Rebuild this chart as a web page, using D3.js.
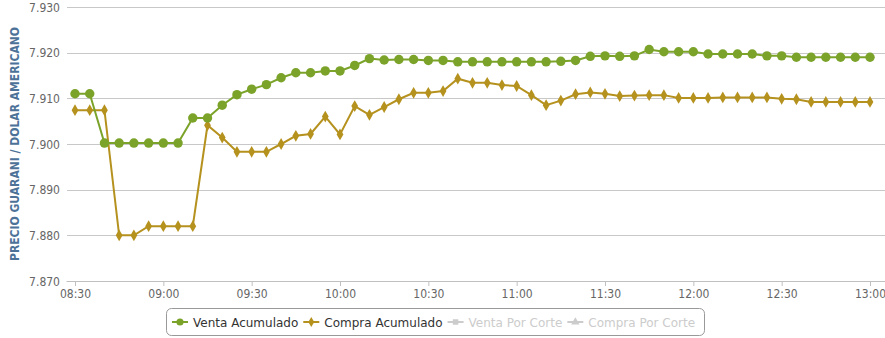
<!DOCTYPE html>
<meta charset="utf-8">
<title>Precio Guarani / Dolar</title>
<style>
body { margin: 0; background: #fff; }
svg { display: block; }
.grid line { stroke: #c8c8c8; stroke-width: 1; shape-rendering: crispEdges; }
.tick text { font: 12px "DejaVu Sans Condensed", "DejaVu Sans", sans-serif; fill: #666; }
.legend text { font: 12px "DejaVu Sans", sans-serif; fill: #333; }
</style>
<body>
<script src="https://d3js.org/d3.v7.min.js"></script>
<script>

// times, every 5 minutes
var times = ["08:30","08:35","08:40","08:45","08:50","08:55","09:00","09:05","09:10","09:15",
             "09:20","09:25","09:30","09:35","09:40","09:45","09:50","09:55","10:00","10:05",
             "10:10","10:15","10:20","10:25","10:30","10:35","10:40","10:45","10:50","10:55",
             "11:00","11:05","11:10","11:15","11:20","11:25","11:30","11:35","11:40","11:45",
             "11:50","11:55","12:00","12:05","12:10","12:15","12:20","12:25","12:30","12:35",
             "12:40","12:45","12:50","12:55","13:00"];

var ventaAcumulado = [7.9110,7.9110,7.9002,7.9002,7.9002,7.9002,7.9002,7.9002,7.9057,7.9057,
                      7.9085,7.9108,7.9120,7.9130,7.9145,7.9156,7.9156,7.9160,7.9160,7.9172,
                      7.9187,7.9184,7.9185,7.9185,7.9183,7.9183,7.9180,7.9180,7.9180,7.9180,
                      7.9180,7.9180,7.9180,7.9181,7.9183,7.9192,7.9193,7.9192,7.9193,7.9207,
                      7.9202,7.9202,7.9202,7.9197,7.9197,7.9197,7.9197,7.9193,7.9193,7.9190,
                      7.9190,7.9190,7.9190,7.9190,7.9190];

var compraAcumulado = [7.9074,7.9074,7.9074,7.8800,7.8800,7.8820,7.8820,7.8820,7.8820,7.9041,
                       7.9014,7.8983,7.8983,7.8983,7.9000,7.9018,7.9022,7.9060,7.9021,7.9083,
                       7.9064,7.9081,7.9098,7.9112,7.9112,7.9116,7.9143,7.9134,7.9134,7.9129,
                       7.9127,7.9107,7.9085,7.9095,7.9109,7.9113,7.9110,7.9105,7.9106,7.9107,
                       7.9107,7.9101,7.9101,7.9101,7.9102,7.9102,7.9102,7.9102,7.9099,7.9098,
                       7.9092,7.9092,7.9092,7.9092,7.9092];

var yTicks = [7.870, 7.880, 7.890, 7.900, 7.910, 7.920, 7.930];
var xTicks = ["08:30","09:00","09:30","10:00","10:30","11:00","11:30","12:00","12:30","13:00"];

var legendItems = [
  {name: "Venta Acumulado", color: "#7ba32a", symbol: "circle", on: true},
  {name: "Compra Acumulado", color: "#b5911e", symbol: "diamond", on: true},
  {name: "Venta Por Corte", color: "#cccccc", symbol: "square", on: false},
  {name: "Compra Por Corte", color: "#cccccc", symbol: "triangle", on: false}
];

var W = 885, H = 338;
var margin = {left: 67, top: 7};
var plotW = 830, plotH = 274;

var parseT = d3.timeParse("%H:%M");
var fmtT = d3.timeFormat("%H:%M");

var x = d3.scaleTime()
    .domain([parseT("08:30"), parseT("13:00")])
    .range([8, 803]);
var y = d3.scaleLinear()
    .domain([7.870, 7.930])
    .range([plotH, 0]);

var svg = d3.select("body").append("svg")
    .attr("width", W).attr("height", H);

var g = svg.append("g")
    .attr("transform", "translate(" + margin.left + "," + margin.top + ")");

// horizontal grid
g.append("g").attr("class", "grid")
  .selectAll("line").data(yTicks.slice(1)).enter().append("line")
  .attr("x1", 0).attr("x2", plotW)
  .attr("y1", function(d) { return Math.round(y(d)) + 0.5; })
  .attr("y2", function(d) { return Math.round(y(d)) + 0.5; });

// y axis labels
var yAxis = g.append("g")
  .call(d3.axisLeft(y).tickValues(yTicks).tickFormat(d3.format(".3f")).tickSize(0).tickPadding(7));
yAxis.select(".domain").remove();
yAxis.selectAll("text").attr("dy", "0.35em");

// x axis
var xAxis = g.append("g")
  .attr("transform", "translate(0," + plotH + ")")
  .call(d3.axisBottom(x)
    .tickValues(xTicks.map(parseT))
    .tickFormat(fmtT)
    .tickSize(5).tickPadding(3));
xAxis.select(".domain").attr("stroke", "#c0c0c0").attr("d", "M-0.5,0.5H" + plotW);
xAxis.selectAll(".tick line").attr("stroke", "#c0c0c0");

// y axis title
svg.append("text")
  .attr("transform", "translate(19,144) rotate(-90)")
  .attr("text-anchor", "middle")
  .style("font", "bold 12px 'DejaVu Sans Condensed', sans-serif")
  .style("fill", "#4d7298")
  .text("PRECIO GUARANI / DOLAR AMERICANO");

var line = d3.line()
  .x(function(d, i) { return x(parseT(times[i])); })
  .y(function(d) { return y(d); });

function drawSeries(data, color, symbol, size) {
  var s = g.append("g");
  s.append("path")
    .datum(data)
    .attr("fill", "none")
    .attr("stroke", color)
    .attr("stroke-width", 2)
    .attr("d", line);
  s.selectAll("path.m").data(data).enter().append("path")
    .attr("class", "m")
    .attr("fill", color)
    .attr("transform", function(d, i) {
      return "translate(" + x(parseT(times[i])) + "," + y(d) + ")";
    })
    .attr("d", d3.symbol().type(symbol).size(size));
}

drawSeries(compraAcumulado, "#b5911e", d3.symbolDiamond, 40);
drawSeries(ventaAcumulado, "#7ba32a", d3.symbolCircle, 70);

// legend
var leg = svg.append("g").attr("class", "legend");
leg.append("rect")
  .attr("x", 166.5).attr("y", 308.5).attr("width", 538).attr("height", 27)
  .attr("rx", 5).attr("fill", "#fff").attr("stroke", "#999");

var symMap = {circle: d3.symbolCircle, diamond: d3.symbolDiamond, square: d3.symbolSquare, triangle: d3.symbolTriangle};
var lx = 172;
legendItems.forEach(function(it) {
  var gi = leg.append("g").attr("transform", "translate(" + lx + ",322)");
  gi.append("line").attr("x1", 0).attr("x2", 16).attr("y1", 0).attr("y2", 0)
    .attr("stroke", it.color).attr("stroke-width", 2);
  gi.append("path").attr("transform", "translate(8,0)")
    .attr("fill", it.color)
    .attr("d", d3.symbol().type(symMap[it.symbol]).size(it.symbol === "circle" ? 40 : 30));
  var t = gi.append("text").attr("x", 21).attr("y", 4.5).text(it.name)
    .style("fill", it.on ? "#333" : "#ccc");
  var tw = t.node().getComputedTextLength();
  lx += 21 + tw + 5;
});

</script>
</body>
